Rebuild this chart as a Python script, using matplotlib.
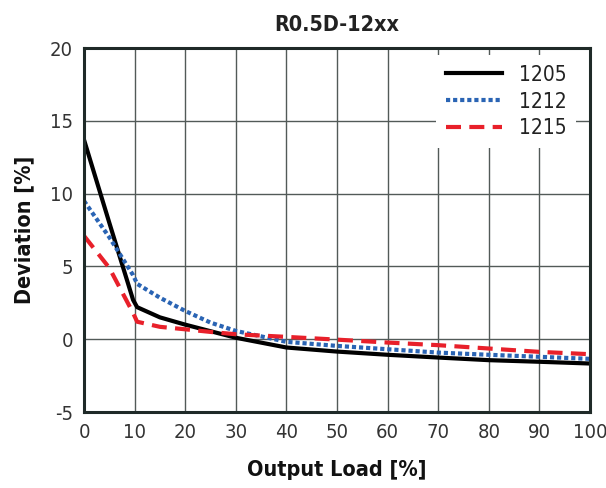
import matplotlib
matplotlib.use("Agg")
import matplotlib.pyplot as plt
from matplotlib import font_manager

plt.rcParams['axes.unicode_minus'] = False

# look for a narrow / condensed font among the installed ones
reg_path = None
bold_path = None
for f in font_manager.fontManager.ttflist:
    p = f.fname.lower()
    if "narrow" in p or "condensed" in p:
        if "italic" in p or "oblique" in p:
            continue
        if "bold" in p:
            bold_path = bold_path or f.fname
        else:
            reg_path = reg_path or f.fname
if reg_path:
    reg = font_manager.FontProperties(fname=reg_path)
else:
    reg = font_manager.FontProperties(family="DejaVu Sans", stretch="condensed")
if bold_path:
    bold = font_manager.FontProperties(fname=bold_path)
else:
    bold = font_manager.FontProperties(family="DejaVu Sans", weight="bold", stretch="condensed")

load = [0, 5, 9.7, 10.5, 15, 20, 25, 30, 40, 50, 60, 70, 80, 90, 100]
dev_1205 = [13.7, 8.0, 2.7, 2.2, 1.5, 1.0, 0.55, 0.1, -0.57, -0.85, -1.07, -1.26, -1.44, -1.55, -1.67]
dev_1212 = [9.5, 7.0, 4.4, 3.8, 2.85, 1.94, 1.14, 0.57, -0.18, -0.46, -0.69, -0.92, -1.07, -1.21, -1.35]
dev_1215 = [7.1, 4.9, 1.8, 1.2, 0.85, 0.68, 0.5, 0.34, 0.16, -0.03, -0.23, -0.41, -0.64, -0.87, -1.03]

fig = plt.figure(figsize=(6.06, 4.88), dpi=100)
ax = fig.add_axes([84/606, 1 - 412/488, 506/606, 364/488])

ax.plot(load, dev_1205, c="black", linewidth=3.0, label="1205", solid_joinstyle="round")
ax.plot(load, dev_1212, c="#2a64b4", linewidth=3.0, linestyle=(0, (1.0, 0.7)), label="1212")
ax.plot(load, dev_1215, c="#e8202a", linewidth=3.0, linestyle=(0, (3.6, 2.0)), label="1215")

ax.set_xlim(0, 100)
ax.set_ylim(-5, 20)
ax.set_xticks(range(0, 101, 10))
ax.set_yticks(range(-5, 21, 5))
ax.grid(linestyle="-", color="#525a58", linewidth=1.0)
ax.set_axisbelow(True)
ax.tick_params(length=0, pad=8)
for lab in ax.get_xticklabels() + ax.get_yticklabels():
    lab.set_fontproperties(reg)
    lab.set_fontsize(14.5)
    lab.set_color("#333333")
for s in ax.spines.values():
    s.set_linewidth(2.2)
    s.set_color("#1f2a28")

ax.set_title("R0.5D-12xx", fontproperties=bold, fontsize=15.5, pad=12, color="#222222")
ax.set_xlabel("Output Load [%]", fontproperties=bold, fontsize=15.5, labelpad=13, color="#111111")
ax.set_ylabel("Deviation [%]", fontproperties=bold, fontsize=15.5, labelpad=11, color="#111111")

leg_font = reg.copy()
leg_font.set_size(15)
leg = ax.legend(loc="upper right", frameon=True, prop=leg_font, handlelength=2.7,
                handletextpad=0.8, labelspacing=0.33, borderaxespad=0, borderpad=0.45,
                fancybox=False, edgecolor="white", framealpha=1.0,
                bbox_to_anchor=(0.972, 0.98))
leg.get_frame().set_linewidth(0)
for t in leg.get_texts():
    t.set_color("#222222")

fig.savefig("out.png", dpi=100)
